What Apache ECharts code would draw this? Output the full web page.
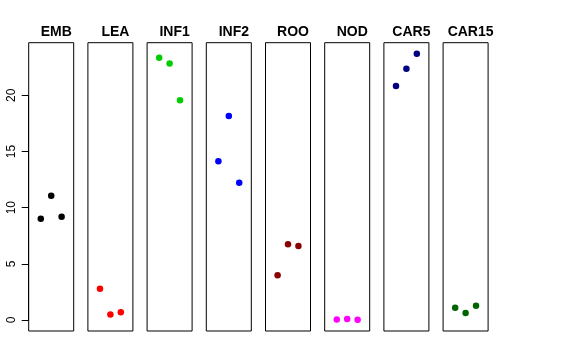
<!DOCTYPE html>
<html><head><meta charset="utf-8">
<script src="https://cdn.jsdelivr.net/npm/echarts@6/dist/echarts.min.js"></script>
<style>html,body{margin:0;padding:0;background:#fff}#c{width:576px;height:360px}</style>
</head><body><div id="c"></div>
<script>
const categories = ['EMB','LEA','INF1','INF2','ROO','NOD','CAR5','CAR15'];
const xPositions = [1, 2, 3];
const valEMB = [9.02, 11.07, 9.2];
const valLEA = [2.79, 0.5, 0.68];
const valINF1 = [23.36, 22.83, 19.56];
const valINF2 = [14.13, 18.17, 12.23];
const valROO = [3.98, 6.74, 6.59];
const valNOD = [0.05, 0.08, 0.03];
const valCAR5 = [20.84, 22.38, 23.71];
const valCAR15 = [1.1, 0.62, 1.27];
const yTicks = [0, 5, 10, 15, 20];
const colors = ['#000000','#FF0000','#00CD00','#0000FF','#8B0000','#FF00FF','#000080','#006400'];
const allValues = [valEMB, valLEA, valINF1, valINF2, valROO, valNOD, valCAR5, valCAR15];

const panelLefts = [28.7, 87.9, 147.1, 206.3, 265.5, 324.7, 383.9, 443.1];
const panelW = 45, panelTop = 42.7, panelH = 288.3;
const yMin = -0.98, yMax = 24.69;
const xMin = -0.16, xMax = 4.16;
const pxPerUnit = panelH / (yMax - yMin);

const grids = [], xAxes = [], yAxes = [], series = [], titles = [];
categories.forEach((cat, i) => {
  grids.push({left: panelLefts[i], top: panelTop, width: panelW, height: panelH, show: true, borderColor: '#000', borderWidth: 1, backgroundColor: 'transparent'});
  xAxes.push({type: 'value', gridIndex: i, min: xMin, max: xMax, show: false});
  yAxes.push({type: 'value', gridIndex: i, min: yMin, max: yMax, show: false});
  series.push({type: 'scatter', xAxisIndex: i, yAxisIndex: i, symbolSize: 6.5,
    itemStyle: {color: colors[i], opacity: 1}, data: xPositions.map((x, k) => [x, allValues[i][k]]), silent: true});
  titles.push({text: cat, left: panelLefts[i] + panelW / 2, top: 20, textAlign: 'center',
    textStyle: {fontFamily: 'Liberation Sans, Arial, sans-serif', fontWeight: 'bold', fontSize: 14, color: '#000'}});
});
const top20 = panelTop + (yMax - yTicks[yTicks.length-1]) * pxPerUnit;
const bot0 = panelTop + (yMax - yTicks[0]) * pxPerUnit;
grids.push({left: panelLefts[0], top: top20, width: panelW, height: bot0 - top20, show: false});
xAxes.push({type: 'value', gridIndex: 8, min: 0, max: 1, show: false});
yAxes.push({type: 'value', gridIndex: 8, min: yTicks[0], max: yTicks[yTicks.length-1], interval: 5,
  axisLine: {show: true, lineStyle: {color: '#000', width: 1}},
  axisTick: {show: true, length: 7, lineStyle: {color: '#000'}},
  splitLine: {show: false},
  axisLabel: {rotate: 90, margin: 11, fontSize: 12, color: '#000', fontFamily: 'Liberation Sans, Arial, sans-serif'}});

const chart = echarts.init(document.getElementById('c'), null, {renderer: 'canvas'});
chart.setOption({animation: false, backgroundColor: '#fff', title: titles, grid: grids, xAxis: xAxes, yAxis: yAxes, series: series});
</script></body></html>
